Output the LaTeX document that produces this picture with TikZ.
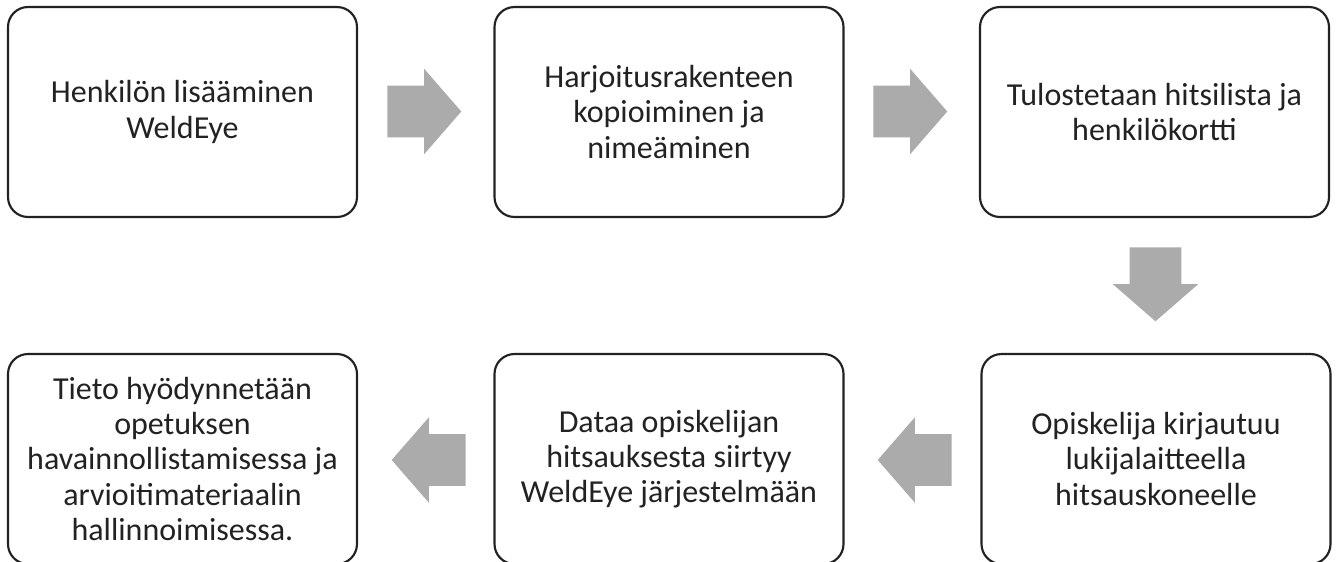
\documentclass[tikz,border=0pt]{standalone}
\usepackage{fontspec}
\setmainfont{Carlito}
\usetikzlibrary{shapes.arrows}
\definecolor{boxline}{HTML}{222222}
\definecolor{arrowgray}{HTML}{ABABAB}
\tikzset{
	stepbox/.style={
			shape=rectangle,
			draw=boxline,
			line width=1.6pt,
			rounded corners=15pt,
			fill=white,
			minimum width=261.75pt,
			minimum height=157.5pt,
			inner sep=0pt,
			align=center,
			text=boxline,
			font=\fontsize{24}{26.5}\selectfont
		},
	blockarrow/.style={
			shape=single arrow,
			draw=none,
			fill=arrowgray,
			anchor=tail,
			minimum height=55.5pt,
			inner xsep=0pt,
			inner ysep=19.125pt,
			single arrow head extend=12.75pt,
			single arrow tip angle=98
		},
	downarrow/.style={
			blockarrow,
			shape border rotate=270,
			inner xsep=19.125pt,
			inner ysep=0pt
		},
	leftarrow/.style={
			blockarrow,
			shape border rotate=180
		}
}

\begin{document}
\begin{tikzpicture}[x=0.75pt,y=-0.75pt]

  \useasboundingbox (0,0) rectangle (1336,561);

  % top row
  \node[stepbox] (b1) at (182.5,112) {Henkilön lisääminen\\WeldEye};
  \node[stepbox] (b2) at (669,112) {Harjoitusrakenteen\\kopioiminen ja\\nimeäminen};
  \node[stepbox] (b3) at (1154.5,112) {Tulostetaan hitsilista ja\\henkilökortti};

  % bottom row
  \node[stepbox] (b4) at (1156,459) {Opiskelija kirjautuu\\lukijalaitteella\\hitsauskoneelle};
  \node[stepbox] (b5) at (669,459) {Dataa opiskelijan\\hitsauksesta siirtyy\\WeldEye järjestelmään};
  \node[stepbox] (b6) at (182.5,459) {Tieto hyödynnetään\\opetuksen\\havainnollistamisessa ja\\arvioitimateriaalin\\hallinnoimisessa.};

  % arrows
  \node[blockarrow] (a1) at (387,111.5) {};
  \node[blockarrow] (a2) at (873,111.5) {};
  \node[downarrow] (a3) at (1155.5,247) {};
  \node[leftarrow] (a4) at (952,460) {};
  \node[leftarrow] (a5) at (466,460) {};

\end{tikzpicture}
\end{document}
